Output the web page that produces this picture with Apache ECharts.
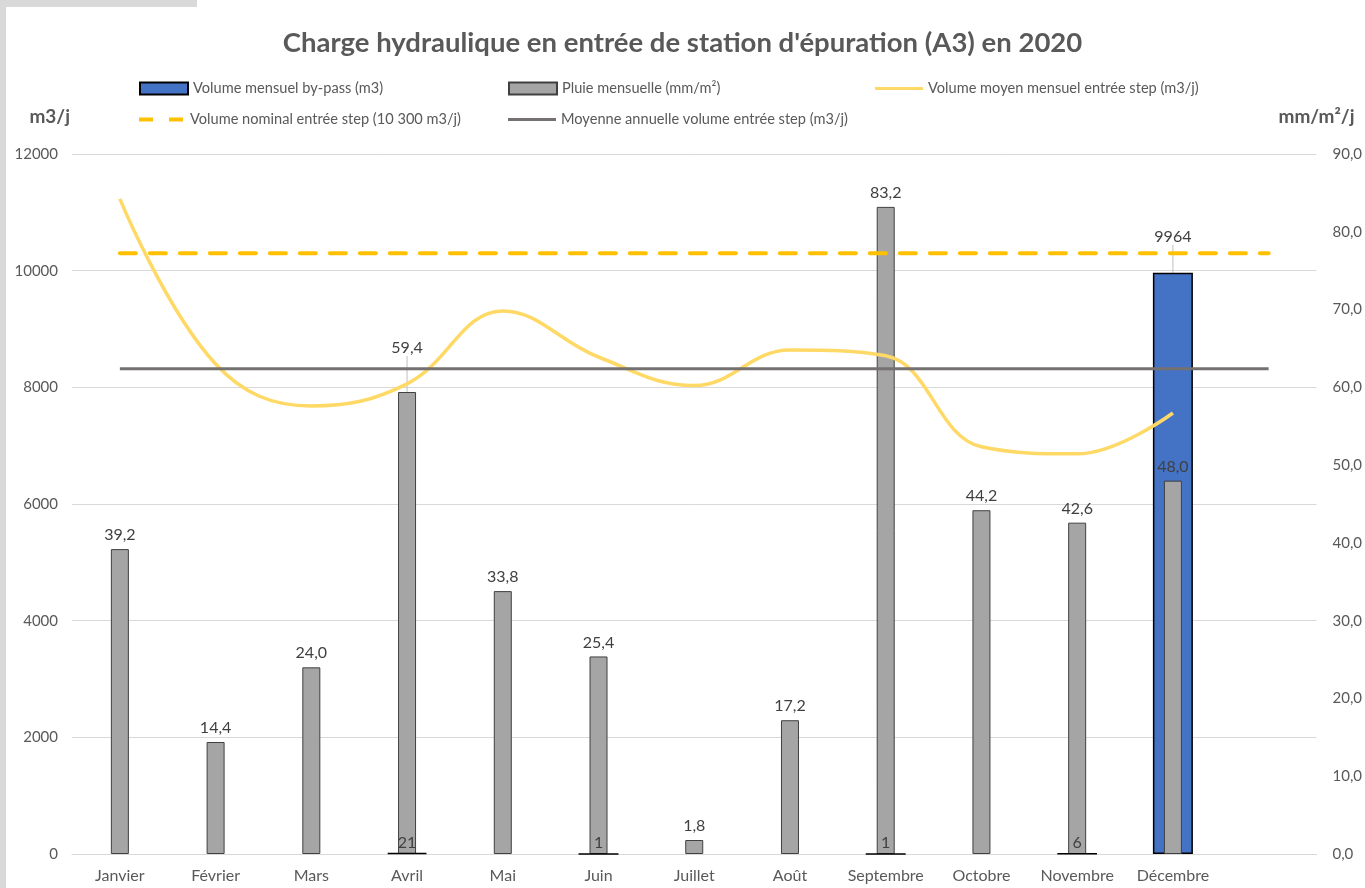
<!DOCTYPE html>
<html>
<head>
<meta charset="utf-8">
<title>Charge hydraulique A3 2020</title>
<script src="https://cdn.jsdelivr.net/npm/echarts@6/dist/echarts.min.js"></script>
<style>
  html, body { margin: 0; padding: 0; background: #fff; }
  #strip { position: absolute; left: 0; top: 0; width: 6px; height: 888px; background: #d9d9d9; }
  #corner { position: absolute; left: 0; top: 0; width: 197px; height: 7px; background: #d9d9d9; }
  #chart { position: absolute; left: 0; top: 0; width: 1365px; height: 888px; }
</style>
</head>
<body>
<div id="chart"></div>
<div id="strip"></div>
<div id="corner"></div>
<script>
// valeurs
var months = ['Janvier', 'Février', 'Mars', 'Avril', 'Mai', 'Juin', 'Juillet', 'Août', 'Septembre', 'Octobre', 'Novembre', 'Décembre'];
var bypass = [null, null, null, 21, null, 1, null, null, 1, null, 6, 9964];
var pluie = [39.2, 14.4, 24.0, 59.4, 33.8, 25.4, 1.8, 17.2, 83.2, 44.2, 42.6, 48.0];
var volumeMoyen = [11230, 8400, 7680, 8060, 9310, 8520, 8030, 8640, 8540, 6980, 6860, 7560];
var volumeNominal = 10300;
var moyenneAnnuelle = 8320;
var leftTicks = { min: 0, max: 12000, interval: 2000 };
var rightTicks = { min: 0, max: 90, interval: 10 };

var textColor = '#595959';
var font = 'Lato, "Open Sans", sans-serif';
var BIG = 1000; // au-dessus : barre dessinée sous la pluie

// une catégorie vide en plus à droite, comme dans Excel
var cats = months.concat(['']);
var flat = function (v) { return cats.map(function () { return v; }); };
var virgule = function (v) { return v.toFixed(1).replace('.', ','); };
var leader = { show: true, lineStyle: { color: '#bfbfbf', width: 1 } };

var chart = echarts.init(document.getElementById('chart'));

function oneLegend(name, left, top, extra) {
  return Object.assign({
    data: [name],
    left: left,
    top: top,
    padding: 0,
    itemWidth: 48,
    itemHeight: 12,
    textStyle: { color: textColor, fontSize: 14.6, fontFamily: font },
    selectedMode: false
  }, extra || {});
}

var barLabel = { show: true, position: 'top', color: '#404040', fontSize: 16, fontFamily: font, distance: 3 };

var option = {
  backgroundColor: 'transparent',
  animation: false,
  title: {
    text: "Charge hydraulique en entrée de station d'épuration (A3) en 2020",
    left: 'center',
    top: 24,
    textStyle: { color: textColor, fontSize: 27.5, fontWeight: 'bold', fontFamily: font }
  },
  legend: [
    oneLegend('Volume mensuel by-pass (m3)', 139, 81, { icon: 'rect' }),
    oneLegend('Pluie mensuelle (mm/m²)', 508, 81, { icon: 'rect' }),
    oneLegend('Volume moyen mensuel entrée step (m3/j)', 875, 81,
      { icon: 'path://M0,0h48v3h-48z', itemHeight: 3 }),
    oneLegend('Volume nominal entrée step (10 300 m3/j)', 139, 112,
      { icon: 'path://M2,0h14v4h-14z M32,0h14v4h-14z', itemHeight: 4 }),
    oneLegend('Moyenne annuelle volume entrée step (m3/j)', 508, 112,
      { icon: 'path://M0,0h48v3h-48z', itemHeight: 3 })
  ],
  grid: { left: 72, right: 48, top: 154, bottom: 34 },
  xAxis: [
    {
      type: 'category',
      data: cats,
      axisLine: { lineStyle: { color: '#d9d9d9' } },
      axisTick: { show: false },
      axisLabel: { color: textColor, fontSize: 16, fontFamily: font, margin: 14, interval: 0 }
    },
    {
      type: 'category',
      data: cats,
      show: false
    }
  ],
  yAxis: [
    {
      type: 'value',
      min: leftTicks.min, max: leftTicks.max, interval: leftTicks.interval,
      name: 'm3/j',
      nameGap: 28,
      nameTextStyle: { color: textColor, fontSize: 19, fontWeight: 'bold', fontFamily: font, align: 'right', padding: [0, 2, 0, 0] },
      axisLine: { show: false },
      axisTick: { show: false },
      axisLabel: { color: textColor, fontSize: 15, fontFamily: font, margin: 14, formatter: function (v) { return String(v); } },
      splitLine: { lineStyle: { color: '#d9d9d9' } }
    },
    {
      type: 'value',
      min: rightTicks.min, max: rightTicks.max, interval: rightTicks.interval,
      name: 'mm/m²/j',
      nameGap: 28,
      nameTextStyle: { color: textColor, fontSize: 19, fontWeight: 'bold', fontFamily: font, align: 'center' },
      axisLine: { show: false },
      axisTick: { show: false },
      axisLabel: { color: textColor, fontSize: 15, fontFamily: font, margin: 16, formatter: virgule },
      splitLine: { show: false }
    }
  ],
  series: [
    {
      // grosse barre de décembre, sous la barre de pluie
      name: 'Volume mensuel by-pass (m3)',
      type: 'bar',
      xAxisIndex: 0,
      yAxisIndex: 0,
      barWidth: 40,
      barGap: '-100%',
      z: 2,
      data: bypass.map(function (v) {
        return v !== null && v > BIG ? { value: v, labelLine: leader } : null;
      }),
      itemStyle: { color: '#4472C4', borderColor: '#000', borderWidth: 1.5 },
      label: barLabel,
      labelLayout: { dy: -25 }
    },
    {
      // petits volumes : étiquettes par-dessus la pluie
      name: 'Volume mensuel by-pass (m3)',
      type: 'bar',
      xAxisIndex: 0,
      yAxisIndex: 0,
      barWidth: 40,
      barGap: '-100%',
      z: 5,
      data: bypass.map(function (v) { return v !== null && v <= BIG ? v : null; }),
      itemStyle: { color: '#4472C4', borderColor: '#000', borderWidth: 1.5 },
      label: Object.assign({}, barLabel, { distance: 2 })
    },
    {
      name: 'Pluie mensuelle (mm/m²)',
      type: 'bar',
      xAxisIndex: 1,
      yAxisIndex: 1,
      barWidth: 18,
      z: 3,
      data: pluie.map(function (v, i) {
        return i === 3 ? { value: v, labelLine: leader } : v;
      }),
      itemStyle: { color: '#A5A5A5', borderColor: '#404040', borderWidth: 1 },
      label: Object.assign({}, barLabel, {
        distance: 6,
        formatter: function (p) { return virgule(p.value); }
      }),
      labelLayout: function (p) { return p.dataIndex === 3 ? { dy: -30 } : {}; }
    },
    {
      name: 'Volume moyen mensuel entrée step (m3/j)',
      type: 'line',
      xAxisIndex: 0,
      yAxisIndex: 0,
      smooth: 0.4,
      symbol: 'none',
      z: 4,
      data: volumeMoyen.concat([null]),
      itemStyle: { color: '#FFD966' },
      lineStyle: { color: '#FFD966', width: 3.5 }
    },
    {
      name: 'Volume nominal entrée step (10 300 m3/j)',
      type: 'line',
      xAxisIndex: 0,
      yAxisIndex: 0,
      symbol: 'none',
      z: 4,
      data: flat(volumeNominal),
      itemStyle: { color: '#FFC000' },
      lineStyle: { color: '#FFC000', width: 4, type: [16, 14], cap: 'round' }
    },
    {
      name: 'Moyenne annuelle volume entrée step (m3/j)',
      type: 'line',
      xAxisIndex: 0,
      yAxisIndex: 0,
      symbol: 'none',
      z: 4,
      data: flat(moyenneAnnuelle),
      itemStyle: { color: '#767171' },
      lineStyle: { color: '#767171', width: 3 }
    }
  ]
};

chart.setOption(option);
</script>
</body>
</html>
